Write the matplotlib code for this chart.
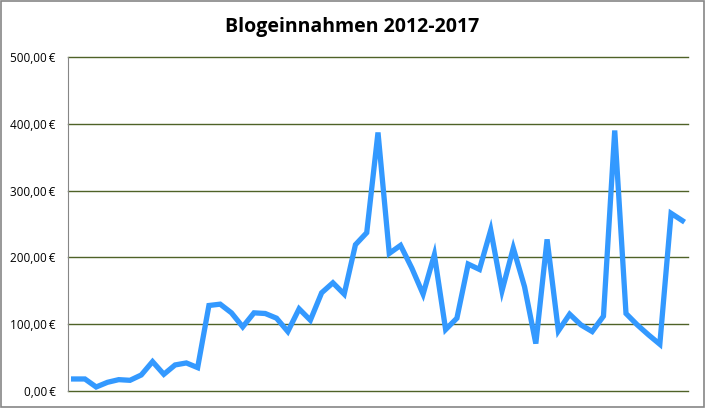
import numpy as np
import matplotlib.pyplot as plt
from matplotlib.ticker import FuncFormatter

# monthly blog income
income = [18, 18, 6, 13, 17, 16, 24, 44, 25, 39,
          42, 35, 128, 130, 117, 96, 117, 116, 109, 89,
          123, 106, 147, 162, 145, 219, 237, 387, 206, 218,
          184, 145, 204, 92, 109, 190, 182, 241, 150, 214,
          156, 71, 227, 90, 115, 99, 89, 112, 390, 116,
          99, 84, 70, 266, 255]
yticks = [0, 100, 200, 300, 400, 500]

def euro(v, pos):
    return ('%.2f' % v).replace('.', ',') + '\u2009€'

fig = plt.figure(figsize=(7.05, 4.08), dpi=100)
ax = fig.add_axes([68/705, 17/408, 620/705, 334/408])

x = np.arange(len(income))
ax.plot(x, income, color='#3399FF', lw=3.8, solid_joinstyle='miter', zorder=3)

ax.set_xlim(-0.5, len(income) - 0.5)
ax.set_ylim(0, 500)
ax.set_yticks(yticks)
ax.yaxis.set_major_formatter(FuncFormatter(euro))
ax.set_xticks([])
for t in yticks:
    ax.axhline(t, color='#4F6228', lw=1, clip_on=False, zorder=1)
ax.tick_params(axis='y', length=0, labelsize=8.5, pad=9)
for s in ['top', 'right', 'bottom']:
    ax.spines[s].set_visible(False)
ax.spines['left'].set_color('#868686')
for lab in ax.get_yticklabels():
    lab.set_family(['Open Sans', 'DejaVu Sans'])

fig.text(0.5, 0.935, 'Blogeinnahmen 2012-2017', ha='center', va='center',
         fontsize=14, fontweight='bold', family='Open Sans')

# outer chart border
fig.patches.append(plt.Rectangle((0.002, 0.002), 0.996, 0.996, transform=fig.transFigure,
                                 fill=False, edgecolor='#868686', lw=1.2))

fig.savefig('out.png', dpi=100)
